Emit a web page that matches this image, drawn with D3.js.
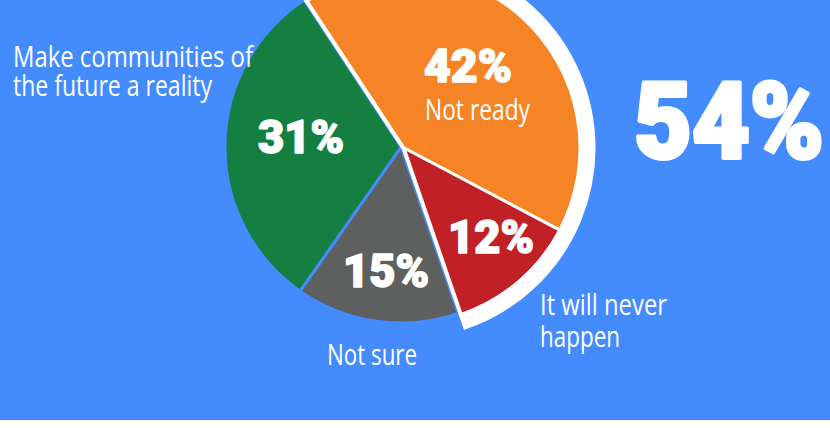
<!DOCTYPE html>
<html>
<head>
<meta charset="utf-8">
<script src="https://cdn.jsdelivr.net/npm/d3@7"></script>
<style>
  html, body { margin: 0; padding: 0; background: #ffffff; }
  svg { display: block; }
</style>
</head>
<body>
<svg id="chart" width="830" height="428"></svg>
<script>
// ---- data ----
const categories = ["Not ready", "It will never happen", "Not sure", "Make communities of the future a reality"];
const values = [42, 12, 15, 31];
const valueLabels = ["42%", "12%", "15%", "31%"];
const colors = ["#F58426", "#C02026", "#5E605F", "#147F41"];
const highlightIdx = [0, 1];           // slices combined into the headline number
const headline = "54%";

// ---- layout ----
const W = 830, H = 428, bgH = 420;
const cx = 401, cy = 147, R = 176;
const explode = [3, 1];
const ringR = 189;
const startDeg = -33.4;
const heavyFont = "Roboto, Lato, 'Open Sans', sans-serif";
const lightFont = "'Open Sans', Lato, sans-serif";

const svg = d3.select("#chart");
svg.append("rect").attr("width", W).attr("height", bgH).attr("fill", "#448BFE");

const pie = d3.pie().sort(null).value(d => d)
  .startAngle(startDeg * Math.PI / 180)
  .endAngle((startDeg + 360) * Math.PI / 180);
const arcs = pie(values);
const arc = d3.arc().innerRadius(0).outerRadius(R);

// non-highlighted slices
const base = svg.append("g").attr("transform", `translate(${cx},${cy})`);
base.selectAll("path").data(arcs.filter((d, i) => !highlightIdx.includes(i)))
  .join("path")
  .attr("d", arc)
  .attr("fill", d => colors[d.index])
  .attr("stroke", "#448BFE").attr("stroke-width", 3).attr("stroke-linejoin", "round");

// highlighted group, exploded, with white ring
const grp = svg.append("g").attr("transform", `translate(${cx + explode[0]},${cy + explode[1]})`);
const hi = arcs.filter((d, i) => highlightIdx.includes(i));
const ring = d3.arc().innerRadius(0).outerRadius(ringR)
  .startAngle(d3.min(hi, d => d.startAngle)).endAngle(d3.max(hi, d => d.endAngle));
grp.append("path").attr("d", ring()).attr("fill", "#fff")
  .attr("stroke", "#fff").attr("stroke-width", 5).attr("stroke-linejoin", "miter");
grp.selectAll("path.slice").data(hi).join("path").attr("class", "slice")
  .attr("d", arc)
  .attr("fill", d => colors[d.index])
  .attr("stroke", "#fff").attr("stroke-width", 3).attr("stroke-linejoin", "round");

// value labels (heavy)
const valuePos = [
  {x: 468, y: 82, w: 88},
  {x: 491, y: 253, w: 86},
  {x: 386, y: 287, w: 86},
  {x: 301, y: 153, w: 86}
];
svg.append("g").selectAll("text").data(valueLabels).join("text")
  .attr("x", (d, i) => valuePos[i].x).attr("y", (d, i) => valuePos[i].y)
  .attr("text-anchor", "middle")
  .attr("textLength", (d, i) => valuePos[i].w).attr("lengthAdjust", "spacingAndGlyphs")
  .attr("font-family", heavyFont).attr("font-weight", 900).attr("font-size", 47)
  .attr("fill", "#fff").attr("stroke", "#fff").attr("stroke-width", 1.6)
  .attr("stroke-linejoin", "round").text(d => d);

// category labels (light, condensed)
const catLines = [
  [{t: "Not ready", x: 425, y: 120, w: 105}],
  [{t: "It will never", x: 540, y: 315, w: 127}, {t: "happen", x: 540, y: 347, w: 80}],
  [{t: "Not sure", x: 327, y: 365, w: 90}],
  [{t: "Make communities of", x: 13, y: 67, w: 240}, {t: "the future a reality", x: 13, y: 96, w: 199}]
];
const lab = svg.append("g");
catLines.forEach((lines, i) => {
  lines.forEach(l => {
    lab.append("text").attr("x", l.x).attr("y", l.y)
      .attr("textLength", l.w).attr("lengthAdjust", "spacingAndGlyphs")
      .attr("font-family", lightFont).attr("font-weight", 400).attr("font-size", 29)
      .attr("fill", "#fff").text(l.t);
  });
});

// headline
svg.append("text").attr("x", 634).attr("y", 158)
  .attr("textLength", 190).attr("lengthAdjust", "spacingAndGlyphs")
  .attr("font-family", heavyFont).attr("font-weight", 900).attr("font-size", 106)
  .attr("fill", "#fff").attr("stroke", "#fff").attr("stroke-width", 4)
  .attr("stroke-linejoin", "round").text(headline);
</script>
</body>
</html>
